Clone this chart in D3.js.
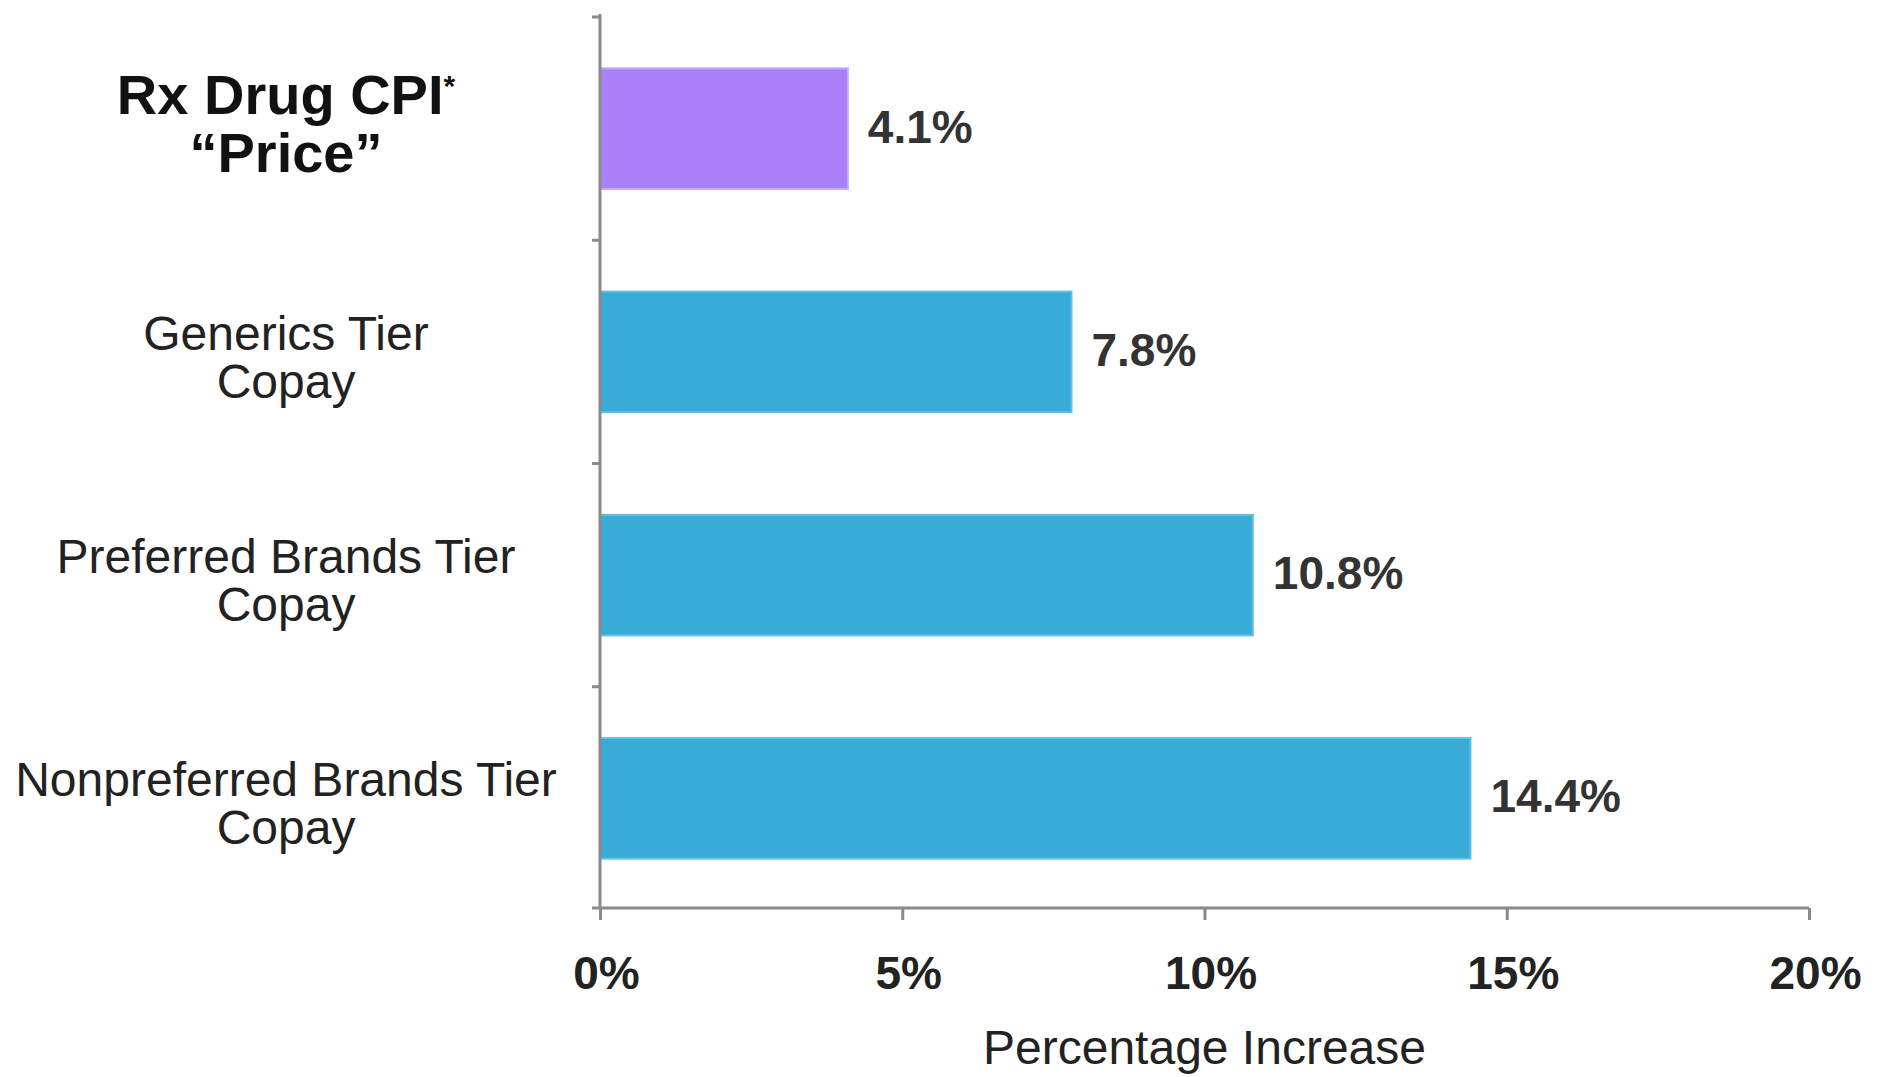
<!DOCTYPE html>
<html>
<head>
<meta charset="utf-8">
<script src="https://cdn.jsdelivr.net/npm/d3@7"></script>
<style>
  body { margin: 0; background: #fff; }
  text { font-family: "Liberation Sans", Arial, sans-serif; }
</style>
</head>
<body>
<div class="chart"></div>
<script>
// data
const categories = [
  ["Rx Drug CPI", "\u201CPrice\u201D"],
  ["Generics Tier", "Copay"],
  ["Preferred Brands Tier", "Copay"],
  ["Nonpreferred Brands Tier", "Copay"]
]
const values = [4.1, 7.8, 10.8, 14.4]
const barColors = ["#a880f8", "#39abd7", "#39abd7", "#39abd7"]
const edgeColors = ["#c3a9fb", "#62c0e6", "#62c0e6", "#62c0e6"]
const xTicks = [0, 5, 10, 15, 20]
const xTitle = "Percentage Increase"

let width = 1885
let height = 1077
let axisColor = "#8a8a8a"

const svg = d3.select('.chart').append("svg")
  .attr("width", width)
  .attr("height", height)

const x = d3.scaleLinear().domain([0, 20]).range([600, 1809])
const y = d3.scaleBand()
  .domain(d3.range(categories.length))
  .range([17, 910])
  .paddingInner(0.46)
  .paddingOuter(0.23)

// bars
svg.append("g").selectAll("rect")
  .data(values)
  .join("rect")
    .attr("x", x(0))
    .attr("y", (d, i) => y(i))
    .attr("width", d => x(d) - x(0))
    .attr("height", y.bandwidth())
    .attr("fill", (d, i) => barColors[i])
    .attr("stroke", (d, i) => edgeColors[i])
    .attr("stroke-width", 2)

// value labels
svg.append("g").selectAll("text")
  .data(values)
  .join("text")
    .attr("x", d => x(d) + 20)
    .attr("y", (d, i) => y(i) + y.bandwidth() / 2 - 2)
    .attr("dy", "0.35em")
    .attr("font-size", 46)
    .attr("font-weight", "bold")
    .attr("fill", "#333")
    .text(d => d.toFixed(1) + "%")

// y axis line + ticks at band boundaries
const boundaries = d3.range(categories.length).map(i => y(i) - y.step() * y.paddingInner() / 2)
svg.append("line")
  .attr("x1", x(0)).attr("x2", x(0))
  .attr("y1", 14).attr("y2", 908)
  .attr("stroke", axisColor).attr("stroke-width", 3)
svg.append("g").selectAll("line")
  .data(boundaries)
  .join("line")
    .attr("x1", x(0) - 8).attr("x2", x(0))
    .attr("y1", d => d).attr("y2", d => d)
    .attr("stroke", axisColor).attr("stroke-width", 3)

// x axis
const xAxis = d3.axisBottom(x)
  .tickValues(xTicks)
  .tickSize(12)
  .tickPadding(36)
  .tickFormat(d => d + "%")
const gx = svg.append("g")
  .attr("transform", `translate(0,908)`)
  .call(xAxis)
gx.select(".domain")
  .attr("d", `M${x(0) - 8},0H${x(20)}`)
  .attr("stroke", axisColor).attr("stroke-width", 3)
gx.selectAll(".tick line").attr("stroke", axisColor).attr("stroke-width", 3)
gx.selectAll(".tick text")
  .attr("font-family", "Liberation Sans, Arial, sans-serif")
  .attr("font-size", 46)
  .attr("font-weight", "bold")
  .attr("fill", "#222")
  .attr("dx", 6)

// axis title
svg.append("text")
  .attr("x", x(10))
  .attr("y", 1064)
  .attr("text-anchor", "middle")
  .attr("font-size", 48)
  .attr("fill", "#222")
  .text(xTitle)

// category labels
const labelX = 286
categories.forEach((lines, i) => {
  const cy = y(i) + y.bandwidth() / 2
  const first = i === 0
  const t = svg.append("text")
    .attr("text-anchor", "middle")
    .attr("fill", first ? "#111" : "#222")
    .attr("font-size", first ? 56 : 48)
    .attr("font-weight", first ? "bold" : "normal")
  const t1 = t.append("tspan")
    .attr("x", labelX)
    .attr("y", first ? cy - 15 : cy - 2)
    .text(lines[0])
  if (first) {
    t1.append("tspan")
      .attr("font-size", 30)
      .attr("dy", -18)
      .text("*")
  }
  t.append("tspan")
    .attr("x", labelX)
    .attr("y", first ? cy + 43 : cy + 46)
    .text(lines[1])
})
</script>
</body>
</html>
